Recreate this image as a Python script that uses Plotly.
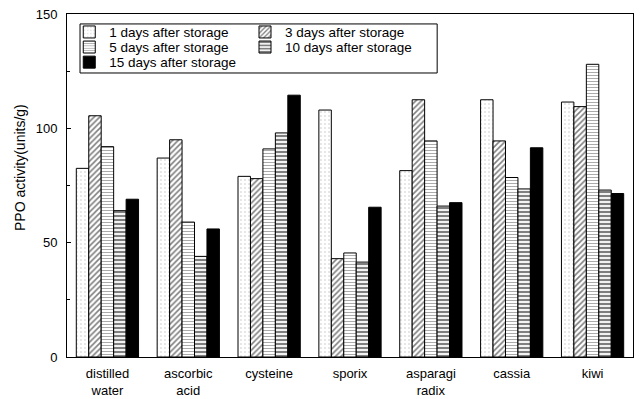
import plotly.graph_objects as go

categories = ["distilled<br>water", "ascorbic<br>acid", "cysteine", "sporix",
              "asparagi<br>radix", "cassia", "kiwi"]
series_names = ["1 days after storage", "3 days after storage", "5 days after storage",
                "10 days after storage", "15 days after storage"]
day1 = [82.5, 87, 79, 108, 81.5, 112.5, 111.5]
day3 = [105.5, 95, 78, 43, 112.5, 94.5, 109.5]
day5 = [92, 59, 91, 45.5, 94.5, 78.5, 128]
day10 = [64, 44, 98, 41.5, 66, 73.5, 73]
day15 = [69, 56, 114.5, 65.5, 67.5, 91.5, 71.5]

values = [day1, day3, day5, day10, day15]
patterns = [
    dict(shape=".", fgcolor="#8a8a8a", bgcolor="white", size=4, solidity=0.12),
    dict(shape="/", fgcolor="black", bgcolor="white", size=4, solidity=0.4),
    dict(shape="-", fgcolor="#444444", bgcolor="white", size=3, solidity=0.3),
    dict(shape="-", fgcolor="black", bgcolor="white", size=4, solidity=0.55),
    dict(shape="", fgcolor="black", bgcolor="black", solidity=1),
]
colors = ["white", "white", "white", "white", "black"]

# one legend per entry so the two-column block can be laid out row by row
legend_ids = ["legend", "legend2", "legend3", "legend4", "legend5"]
legend_x = [0.004, 0.3145, 0.004, 0.3145, 0.004]
legend_y = [0.947, 0.947, 0.903, 0.903, 0.859]

fig = go.Figure()
for name, vals, pat, col, lg in zip(series_names, values, patterns, colors, legend_ids):
    fig.add_trace(go.Bar(
        x=categories, y=vals, name=name, legend=lg,
        marker=dict(color=col, pattern=pat, line=dict(color="black", width=1)),
    ))

font = dict(family="Liberation Sans, Arial, sans-serif", size=12, color="black")

legend_layout = {}
for lg, lx, ly in zip(legend_ids, legend_x, legend_y):
    legend_layout[lg] = dict(x=lx, y=ly, xanchor="left", yanchor="middle",
                             bgcolor="rgba(0,0,0,0)", font=dict(size=13.5),
                             itemwidth=30, borderwidth=0)

fig.update_layout(
    width=644, height=399,
    margin=dict(l=67, r=11, t=14, b=42),
    paper_bgcolor="white", plot_bgcolor="white",
    barmode="group", bargap=0.23, bargroupgap=0,
    font=font,
    showlegend=True,
    shapes=[dict(type="rect", xref="paper", yref="paper",
                 x0=0.023, x1=0.654, y0=0.828, y1=0.971,
                 line=dict(color="black", width=1), fillcolor="rgba(0,0,0,0)")],
    annotations=[dict(text="PPO activity(units/g)", xref="paper", yref="paper",
                      x=-0.083, y=0.551, textangle=-90, showarrow=False,
                      font=dict(size=14), xanchor="center", yanchor="middle")],
    xaxis=dict(showline=True, linecolor="black", linewidth=1, mirror=True,
               ticks="", tickfont=dict(size=13), ticklabelstandoff=4,
               automargin=False),
    yaxis=dict(range=[0, 150], tickvals=[0, 50, 100, 150],
               showline=True, linecolor="black", linewidth=1, mirror=True,
               ticks="inside", ticklen=4, tickcolor="black",
               minor=dict(tickvals=[25, 75, 125], ticks="inside", ticklen=3, tickcolor="black"),
               showgrid=False, zeroline=False, automargin=False,
               tickfont=dict(size=13), ticklabelstandoff=6),
    **legend_layout,
)

fig.write_html("out.html")
